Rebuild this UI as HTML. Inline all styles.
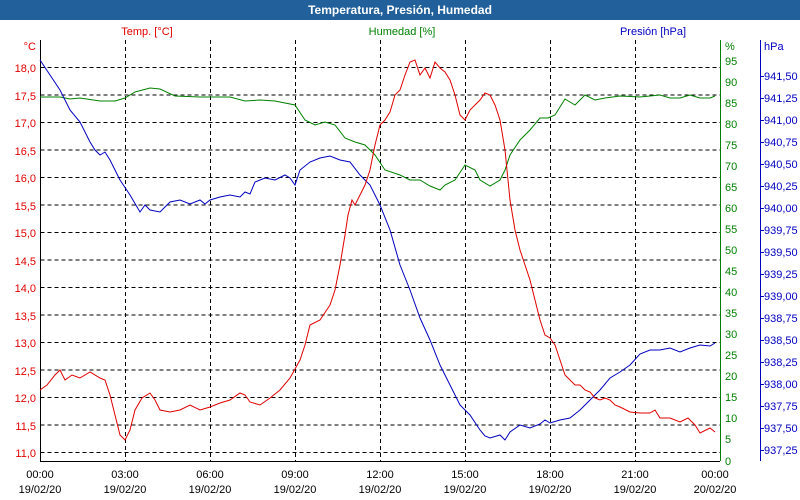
<!DOCTYPE html><html><head><meta charset="utf-8"><style>body{margin:0;background:#fff}svg{display:block}text{font-family:"Liberation Sans",sans-serif;font-size:11px}</style></head><body>
<svg width="800" height="500" xmlns="http://www.w3.org/2000/svg">
<rect width="800" height="500" fill="#fff"/>
<rect width="800" height="20" fill="#21609a"/>
<text x="400" y="14" text-anchor="middle" fill="#fff" font-weight="bold" style="font-size:12px">Temperatura, Presión, Humedad</text>
<g stroke="#000" stroke-dasharray="4,3" stroke-width="1">
<path d="M40.5 67.5H720M40.5 95H720M40.5 122.5H720M40.5 150H720M40.5 177.5H720M40.5 205H720M40.5 232.5H720M40.5 260H720M40.5 287.5H720M40.5 315H720M40.5 342.5H720M40.5 370H720M40.5 397.5H720M40.5 425H720M40.5 452.5H720"/>
<path d="M125.5 40V461M210.5 40V461M295.5 40V461M380.5 40V461M465.5 40V461M550.5 40V461M635.5 40V461"/>
</g>
<path d="M40.5 40V461.5H720" stroke="#000" fill="none"/>
<path d="M720.5 40V461" stroke="#008000"/>
<path d="M760.5 40V461" stroke="#0000c0"/>
<path d="M761 76.5h3M761 98.5h3M761 120.5h3M761 142.5h3M761 164.5h3M761 186.5h3M761 208.5h3M761 230.5h3M761 252.5h3M761 274.5h3M761 296.5h3M761 318.5h3M761 340.5h3M761 362.5h3M761 384.5h3M761 406.5h3M761 428.5h3M761 450.5h3" stroke="#0000c0"/>
<g fill="#e00000" text-anchor="end">
<text x="36" y="50">°C</text>
<text x="36" y="72">18,0</text><text x="36" y="100">17,5</text><text x="36" y="127">17,0</text><text x="36" y="155">16,5</text><text x="36" y="182">16,0</text><text x="36" y="210">15,5</text><text x="36" y="237">15,0</text><text x="36" y="265">14,5</text><text x="36" y="292">14,0</text><text x="36" y="320">13,5</text><text x="36" y="347">13,0</text><text x="36" y="375">12,5</text><text x="36" y="402">12,0</text><text x="36" y="430">11,5</text><text x="36" y="457">11,0</text>
</g>
<text x="147" y="35" fill="#e00000" text-anchor="middle">Temp. [°C]</text>
<text x="402" y="35" fill="#008000" text-anchor="middle">Humedad [%]</text>
<text x="653" y="35" fill="#0000c0" text-anchor="middle">Presión [hPa]</text>
<g fill="#008000">
<text x="725" y="50">%</text>
<text x="725" y="65">95</text><text x="725" y="86">90</text><text x="725" y="107">85</text><text x="725" y="128">80</text><text x="725" y="149">75</text><text x="725" y="170">70</text><text x="725" y="191">65</text><text x="725" y="212">60</text><text x="725" y="233">55</text><text x="725" y="254">50</text><text x="725" y="275">45</text><text x="725" y="296">40</text><text x="725" y="317">35</text><text x="725" y="338">30</text><text x="725" y="359">25</text><text x="725" y="380">20</text><text x="725" y="401">15</text><text x="725" y="422">10</text><text x="725" y="443">5</text><text x="725" y="465">0</text>
</g>
<g fill="#0000c0">
<text x="764" y="50">hPa</text>
<text x="764" y="80">941,50</text><text x="764" y="102">941,25</text><text x="764" y="124">941,00</text><text x="764" y="146">940,75</text><text x="764" y="168">940,50</text><text x="764" y="190">940,25</text><text x="764" y="212">940,00</text><text x="764" y="234">939,75</text><text x="764" y="256">939,50</text><text x="764" y="278">939,25</text><text x="764" y="300">939,00</text><text x="764" y="322">938,75</text><text x="764" y="344">938,50</text><text x="764" y="366">938,25</text><text x="764" y="388">938,00</text><text x="764" y="410">937,75</text><text x="764" y="432">937,50</text><text x="764" y="454">937,25</text>
</g>
<g fill="#000" text-anchor="middle">
<text x="40" y="478">00:00</text><text x="40" y="493">19/02/20</text>
<text x="125" y="478">03:00</text><text x="125" y="493">19/02/20</text>
<text x="210" y="478">06:00</text><text x="210" y="493">19/02/20</text>
<text x="295" y="478">09:00</text><text x="295" y="493">19/02/20</text>
<text x="380" y="478">12:00</text><text x="380" y="493">19/02/20</text>
<text x="465" y="478">15:00</text><text x="465" y="493">19/02/20</text>
<text x="550" y="478">18:00</text><text x="550" y="493">19/02/20</text>
<text x="635" y="478">21:00</text><text x="635" y="493">19/02/20</text>
<text x="715" y="478">00:00</text><text x="715" y="493">20/02/20</text>
</g>
<polyline fill="none" stroke="#008000" points="40,97 60,97 70,99 80,98 100,101 115,101 125,98 135,92 150,88 160,89 175,96 200,97 230,97 245,101 260,100 275,101 295,105 305,120 315,125 325,122 335,125 345,138 355,142 365,145 375,155 385,170 400,175 410,180 420,180 430,186 440,190 445,185 455,180 465,165 475,170 480,180 490,186 500,180 505,170 510,155 520,140 530,130 540,118 548,118 555,115 565,99 575,105 585,95 595,100 605,98 620,96 640,97 660,95 670,98 680,98 690,95 700,98 710,98 715,96"/>
<polyline fill="none" stroke="#0000c0" points="40,60 50,75 60,90 70,110 80,122 90,142 95,150 100,155 105,152 110,160 120,180 130,195 140,212 145,205 150,210 160,212 170,202 180,200 190,204 200,200 205,204 210,200 220,197 230,195 240,197 245,192 250,194 255,182 265,178 275,180 285,175 290,178 295,185 300,170 310,162 320,158 330,156 340,160 350,162 360,175 370,185 380,205 390,230 400,265 410,290 420,318 430,340 440,365 450,385 460,405 470,415 480,430 485,436 490,438 500,435 505,440 510,432 520,425 530,428 540,424 545,420 550,423 560,420 570,418 580,410 590,400 600,390 610,378 620,372 630,365 640,354 650,350 660,350 670,348 680,352 690,348 700,345 710,346 715,343"/>
<polyline fill="none" stroke="#e00000" points="40,390 47,385 55,375 60,370 65,380 72,375 80,378 90,372 100,378 105,380 110,395 115,415 120,435 125,440 130,430 135,410 142,398 150,393 155,400 160,410 170,412 180,410 190,405 200,410 210,407 220,403 230,400 240,393 245,395 250,402 260,405 270,398 280,390 290,378 300,360 305,345 310,325 320,320 330,305 335,290 340,265 345,235 348,215 352,200 355,205 360,195 365,185 370,170 375,145 380,125 385,120 390,112 395,95 400,90 405,75 410,62 415,60 420,75 425,68 430,78 435,62 440,68 445,72 450,80 455,95 460,115 465,120 470,110 475,105 480,100 485,93 490,95 495,105 500,120 505,150 510,200 515,230 520,250 525,265 530,280 535,300 540,320 545,335 550,338 555,345 560,360 565,375 570,380 575,385 580,385 585,390 590,392 595,398 600,400 605,398 610,400 615,405 620,407 630,412 640,413 650,413 655,410 660,418 670,418 680,422 688,418 695,425 700,433 710,428 715,432"/>
</svg></body></html>
